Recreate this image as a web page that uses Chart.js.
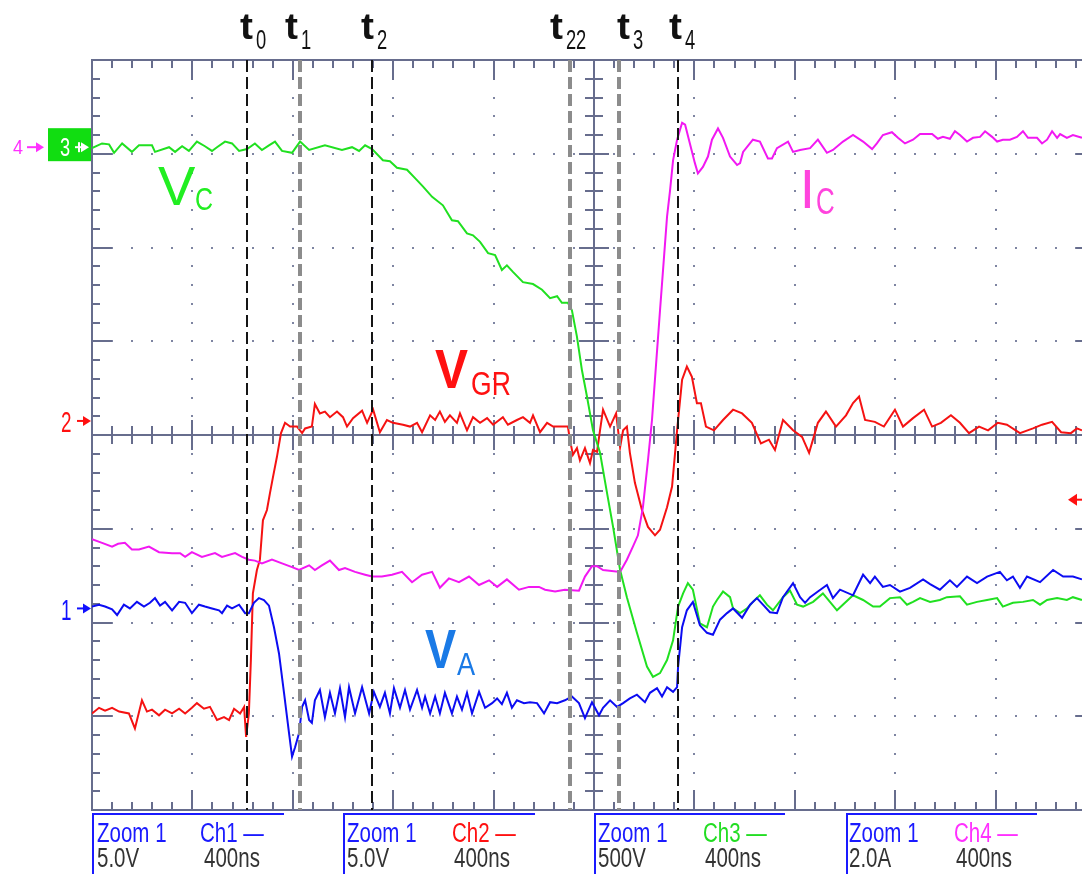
<!DOCTYPE html>
<html>
<head>
<meta charset="utf-8">
<script src="https://cdn.jsdelivr.net/npm/chart.js"></script>
<style>
  html, body { margin: 0; padding: 0; background: #fff; overflow: hidden; }
  #wrap { position: relative; width: 1100px; height: 874px; }
  .box { position: absolute; top: 813px; height: 61px; border-top: 2px solid #1a1aff; border-left: 2px solid #1a1aff; }
  .lbl { position: absolute; font-family: 'Liberation Sans', Arial, sans-serif; font-size: 27px; line-height: 1;
         transform: scaleX(0.76); transform-origin: 0 0; white-space: nowrap; }
</style>
</head>
<body>
<div id="wrap">
  <canvas id="scope" width="1100" height="874"></canvas>
  <div class="box" style="left:92px;width:190px"></div>
  <div class="box" style="left:343px;width:190px"></div>
  <div class="box" style="left:594px;width:189px"></div>
  <div class="box" style="left:846px;width:189px"></div>
  <div class="lbl" style="left:97px;top:820px;color:#1a1aff">Zoom 1</div>
  <div class="lbl" style="left:200px;top:820px;color:#1a1aff">Ch1 —</div>
  <div class="lbl" style="left:97px;top:845px;color:#333">5.0V</div>
  <div class="lbl" style="left:204px;top:845px;color:#333">400ns</div>
  <div class="lbl" style="left:347px;top:820px;color:#1a1aff">Zoom 1</div>
  <div class="lbl" style="left:452px;top:820px;color:#ff1010">Ch2 —</div>
  <div class="lbl" style="left:347px;top:845px;color:#333">5.0V</div>
  <div class="lbl" style="left:454px;top:845px;color:#333">400ns</div>
  <div class="lbl" style="left:598px;top:820px;color:#1a1aff">Zoom 1</div>
  <div class="lbl" style="left:703px;top:820px;color:#22dd22">Ch3 —</div>
  <div class="lbl" style="left:598px;top:845px;color:#333">500V</div>
  <div class="lbl" style="left:705px;top:845px;color:#333">400ns</div>
  <div class="lbl" style="left:849px;top:820px;color:#1a1aff">Zoom 1</div>
  <div class="lbl" style="left:954px;top:820px;color:#ff30ff">Ch4 —</div>
  <div class="lbl" style="left:849px;top:845px;color:#333">2.0A</div>
  <div class="lbl" style="left:956px;top:845px;color:#333">400ns</div>
</div>
<script>
// time in ns (400 ns/div, 10 div), values in screen divisions (+-4 div)

// Ch1: V_A
const ch1T = [0,28,52,80,100,127,151,179,207,231,
  251,271,291,319,347,371,398,426,450,478,
  506,518,538,558,586,610,625,645,665,685,
  705,725,745,765,785,797,809,825,837,849,
  865,876,888,908,928,948,968,988,1008,1024,
  1048,1076,1104,1123,1147,1167,1187,1203,1227,1247,
  1267,1295,1315,1327,1347,1367,1386,1406,1434,1454,
  1474,1494,1514,1542,1566,1594,1614,1633,1653,1673,
  1693,1721,1745,1773,1801,1825,1853,1884,1912,1940,
  1964,1992,2020,2036,2064,2092,2116,2143,2171,2203,
  2223,2251,2271,2291,2315,2331,2335,2351,2370,2394,
  2422,2450,2474,2502,2530,2554,2590,2622,2649,2673,
  2701,2729,2753,2793,2821,2841,2861,2892,2928,2952,
  2980,3032,3072,3100,3119,3151,3179,3219,3259,3311,
  3339,3378,3418,3446,3486,3526,3566,3617,3645,3669,
  3697,3725,3777,3829,3869,3908,3944];
const ch1V = [-1.83,-1.81,-1.83,-1.86,-1.92,-1.81,-1.85,-1.78,-1.83,-1.79,
  -1.74,-1.82,-1.78,-1.87,-1.78,-1.79,-1.90,-1.81,-1.83,-1.85,
  -1.87,-1.90,-1.82,-1.85,-1.81,-1.90,-1.90,-1.79,-1.74,-1.76,
  -1.82,-2.05,-2.33,-2.75,-3.18,-3.43,-3.33,-3.18,-2.90,-2.83,
  -3.04,-3.07,-2.83,-2.72,-3.01,-2.75,-2.97,-2.70,-3.01,-2.69,
  -2.97,-2.69,-2.97,-2.74,-2.90,-2.75,-2.97,-2.70,-2.91,-2.72,
  -2.93,-2.72,-2.91,-2.79,-2.97,-2.79,-2.97,-2.75,-2.97,-2.79,
  -2.93,-2.75,-2.97,-2.74,-2.91,-2.86,-2.81,-2.87,-2.75,-2.91,
  -2.83,-2.86,-2.85,-2.86,-2.97,-2.85,-2.86,-2.83,-2.79,-2.86,
  -3.02,-2.85,-2.99,-2.91,-2.83,-2.90,-2.86,-2.81,-2.77,-2.85,
  -2.75,-2.70,-2.79,-2.69,-2.74,-2.69,-2.47,-2.05,-1.87,-1.78,
  -2.03,-2.11,-2.13,-1.97,-1.90,-1.85,-1.95,-1.81,-1.74,-1.81,
  -1.89,-1.90,-1.73,-1.58,-1.73,-1.79,-1.73,-1.67,-1.60,-1.74,
  -1.65,-1.71,-1.49,-1.58,-1.51,-1.62,-1.60,-1.67,-1.63,-1.54,
  -1.59,-1.65,-1.55,-1.62,-1.51,-1.58,-1.51,-1.46,-1.55,-1.51,
  -1.63,-1.51,-1.57,-1.44,-1.51,-1.51,-1.54];

// Ch2: V_GR
const ch2T = [0,28,52,80,108,147,171,199,219,239,
  267,291,319,347,371,398,418,446,470,498,
  526,546,566,590,606,614,625,633,641,657,
  669,681,697,709,721,737,753,769,789,817,
  837,849,876,888,908,928,948,976,1000,1016,
  1040,1076,1096,1120,1147,1175,1199,1239,1267,1295,
  1315,1347,1367,1386,1406,1426,1454,1466,1494,1518,
  1546,1574,1598,1637,1657,1693,1717,1745,1757,1785,
  1813,1837,1896,1904,1916,1932,1944,1964,1984,1996,
  2012,2024,2036,2064,2088,2104,2116,2131,2143,2163,
  2191,2215,2243,2263,2291,2311,2323,2331,2351,2370,
  2390,2410,2426,2446,2478,2514,2554,2590,2629,2665,
  2697,2721,2753,2793,2829,2857,2892,2924,2964,3004,
  3032,3056,3080,3119,3155,3199,3231,3271,3315,3347,
  3382,3422,3458,3494,3534,3570,3609,3645,3697,3749,
  3785,3825,3861,3900,3924,3944];
const ch2V = [-2.97,-2.91,-2.94,-2.91,-2.95,-2.97,-3.13,-2.83,-2.95,-2.93,
  -2.99,-2.93,-2.97,-2.92,-2.97,-2.91,-2.86,-2.92,-2.90,-3.04,
  -3.01,-3.04,-2.92,-2.97,-2.90,-3.22,-2.97,-2.40,-1.69,-1.44,
  -1.33,-0.91,-0.80,-0.62,-0.45,-0.23,0.02,0.13,0.09,0.09,
  0.02,0.07,0.09,0.33,0.23,0.25,0.19,0.25,0.19,0.09,
  0.18,0.26,0.13,0.27,0.03,0.16,0.13,0.11,0.09,0.13,
  0.03,0.21,0.16,0.25,0.14,0.21,0.13,0.23,0.05,0.19,
  0.13,0.18,0.11,0.19,0.11,0.16,0.19,0.13,0.21,0.03,
  0.13,0.09,0.09,-0.05,-0.21,-0.14,-0.27,-0.14,-0.30,-0.16,
  -0.18,0.05,0.27,0.09,0.23,-0.13,0.05,0.09,-0.19,-0.51,
  -0.80,-0.98,-1.07,-1.01,-0.77,-0.55,-0.19,0.05,0.59,0.73,
  0.62,0.34,0.34,0.09,0.05,0.16,0.27,0.23,0.13,-0.09,
  -0.05,-0.16,0.16,0.05,-0.02,-0.19,0.13,0.25,0.09,0.21,
  0.34,0.41,0.16,0.14,0.09,0.27,0.09,0.18,0.27,0.09,
  0.13,0.21,0.13,0.02,0.09,0.05,0.13,0.11,0.02,0.07,
  0.11,0.14,0.03,0.02,0.07,0.05];

// Ch3: V_C
const ch3T = [0,40,68,88,120,159,187,239,251,307,
  331,359,386,418,450,478,498,530,558,586,
  618,649,677,705,729,757,797,829,865,928,
  996,1036,1064,1088,1116,1159,1187,1215,1255,1287,
  1319,1355,1398,1434,1458,1494,1518,1546,1578,1606,
  1633,1653,1677,1717,1757,1793,1825,1853,1872,1896,
  1912,1932,1952,1972,1996,2024,2052,2076,2104,2131,
  2171,2211,2235,2263,2291,2315,2335,2355,2374,2394,
  2422,2450,2474,2490,2514,2542,2554,2582,2610,2633,
  2661,2689,2713,2753,2781,2809,2833,2873,2912,2940,
  2968,3032,3072,3112,3139,3179,3219,3247,3271,3299,
  3339,3378,3406,3458,3486,3526,3566,3606,3629,3669,
  3709,3749,3777,3805,3845,3884,3908,3944];
const ch3V = [3.06,3.11,3.10,3.01,3.11,3.02,3.09,3.09,3.02,3.07,
  3.02,3.08,3.03,3.13,3.08,3.03,3.07,3.13,3.11,3.03,
  3.05,3.11,3.04,3.09,3.13,3.03,3.01,3.13,3.04,3.09,
  3.04,3.07,3.03,3.09,3.05,2.93,2.92,2.85,2.83,2.74,
  2.65,2.54,2.45,2.29,2.28,2.15,2.13,2.06,1.94,1.92,
  1.76,1.81,1.74,1.63,1.61,1.55,1.46,1.48,1.41,1.41,
  1.33,1.05,0.69,0.41,0.05,-0.19,-0.62,-0.98,-1.44,-1.73,
  -2.11,-2.47,-2.58,-2.54,-2.40,-2.19,-1.83,-1.69,-1.58,-1.65,
  -2.01,-2.05,-1.83,-1.76,-1.67,-1.73,-1.85,-1.90,-1.85,-1.78,
  -1.71,-1.81,-1.87,-1.73,-1.66,-1.81,-1.83,-1.78,-1.69,-1.78,
  -1.87,-1.71,-1.76,-1.83,-1.83,-1.74,-1.73,-1.81,-1.78,-1.74,
  -1.78,-1.76,-1.73,-1.72,-1.81,-1.78,-1.76,-1.74,-1.83,-1.79,
  -1.78,-1.76,-1.81,-1.76,-1.74,-1.76,-1.73,-1.76];

// Ch4: I_C
const ch4T = [0,40,80,104,131,159,187,227,267,319,
  351,371,398,438,490,518,570,598,625,649,
  677,717,757,797,825,865,888,916,948,984,
  1008,1048,1088,1116,1155,1195,1235,1275,1315,1355,
  1386,1422,1462,1502,1542,1582,1614,1653,1701,1741,
  1781,1805,1845,1884,1940,1964,1992,2012,2036,2104,
  2131,2155,2175,2195,2215,2231,2263,2291,2303,2315,
  2331,2351,2363,2382,2402,2414,2434,2454,2470,2494,
  2514,2542,2570,2582,2594,2633,2661,2693,2709,2729,
  2773,2793,2821,2861,2892,2928,2952,2992,3032,3072,
  3108,3127,3151,3187,3211,3239,3271,3299,3347,3370,
  3390,3418,3438,3458,3486,3510,3538,3558,3586,3606,
  3629,3657,3685,3709,3729,3765,3785,3805,3825,3845,
  3857,3884,3908,3944];
const ch4V = [-1.11,-1.15,-1.19,-1.16,-1.15,-1.22,-1.22,-1.19,-1.25,-1.26,
  -1.26,-1.30,-1.25,-1.30,-1.26,-1.30,-1.26,-1.30,-1.33,-1.34,
  -1.37,-1.33,-1.37,-1.41,-1.44,-1.39,-1.44,-1.39,-1.34,-1.44,
  -1.42,-1.46,-1.49,-1.51,-1.51,-1.49,-1.46,-1.57,-1.49,-1.46,
  -1.63,-1.53,-1.57,-1.51,-1.60,-1.55,-1.62,-1.54,-1.65,-1.62,
  -1.62,-1.65,-1.67,-1.65,-1.66,-1.51,-1.40,-1.40,-1.44,-1.46,
  -1.33,-1.19,-1.07,-0.77,-0.27,0.16,1.33,2.33,2.61,2.93,
  3.15,3.33,3.31,3.11,2.90,2.79,2.86,2.97,3.15,3.27,
  3.17,2.97,2.88,2.90,3.02,3.15,3.13,2.95,2.95,3.06,
  3.13,3.02,3.04,3.06,3.15,3.01,3.04,3.13,3.20,3.13,
  3.05,3.11,3.20,3.23,3.17,3.11,3.15,3.21,3.21,3.16,
  3.18,3.16,3.24,3.20,3.13,3.17,3.18,3.24,3.18,3.13,
  3.15,3.15,3.18,3.24,3.17,3.17,3.11,3.15,3.24,3.17,
  3.21,3.17,3.20,3.17];

// cursors
const cursorT = [618, 829, 1116, 1904, 2100, 2335];
const cursorSub = ['0', '1', '2', '22', '3', '4'];
const cursorGray = [false, true, false, true, true, false];

const GRID = '#676d8d';
const DOT = '#7e85a2';

function pts(t, v) {
  return t.map((x, i) => ({ x: x, y: v[i] }));
}

function drawText(ctx, s, x, y, font, color, sx) {
  ctx.save();
  ctx.translate(x, y);
  ctx.scale(sx || 1, 1);
  ctx.font = font;
  ctx.fillStyle = color;
  ctx.textBaseline = 'alphabetic';
  ctx.fillText(s, 0, 0);
  ctx.restore();
}

function arrowRight(ctx, x0, x1, y, color) {
  ctx.save();
  ctx.strokeStyle = color;
  ctx.fillStyle = color;
  ctx.lineWidth = 2;
  ctx.beginPath(); ctx.moveTo(x0, y); ctx.lineTo(x1 - 6, y); ctx.stroke();
  ctx.beginPath(); ctx.moveTo(x1, y); ctx.lineTo(x1 - 8, y - 5); ctx.lineTo(x1 - 8, y + 5); ctx.closePath(); ctx.fill();
  ctx.restore();
}

const graticule = {
  id: 'graticule',
  beforeDatasetsDraw(chart) {
    const { ctx, chartArea: a } = chart;
    const x = chart.scales.x, y = chart.scales.y;
    const dx = (x.getPixelForValue(400) - x.getPixelForValue(0));
    const dy = (y.getPixelForValue(-1) - y.getPixelForValue(0));
    const cx = x.getPixelForValue(2000), cy = y.getPixelForValue(0);
    ctx.save();
    ctx.fillStyle = DOT;
    for (let i = 1; i < 10; i++) {
      const px = Math.round(a.left + i * dx);
      for (let j = 1; j < 40; j++) ctx.fillRect(px - 1, Math.round(a.top + j * dy / 5) - 1, 2, 2);
    }
    for (let j = 1; j < 8; j++) {
      const py = Math.round(a.top + j * dy);
      for (let i = 1; i < 50; i++) ctx.fillRect(Math.round(a.left + i * dx / 5) - 1, py - 1, 2, 2);
    }
    ctx.strokeStyle = GRID;
    ctx.lineWidth = 2;
    ctx.strokeRect(a.left, a.top, a.right - a.left, a.bottom - a.top);
    ctx.beginPath();
    ctx.moveTo(a.left, cy); ctx.lineTo(a.right, cy);
    ctx.moveTo(cx, a.top); ctx.lineTo(cx, a.bottom);
    // ticks on top / bottom edges and centre horizontal axis
    for (let i = 1; i < 50; i++) {
      const px = Math.round(a.left + i * dx / 5);
      const major = i % 5 === 0;
      const L = major ? 20 : 8;
      ctx.moveTo(px, a.top); ctx.lineTo(px, a.top + L);
      ctx.moveTo(px, a.bottom); ctx.lineTo(px, a.bottom - L);
      const c = major ? 15 : 9;
      ctx.moveTo(px, cy - c); ctx.lineTo(px, cy + c);
    }
    // ticks on left / right edges and centre vertical axis
    for (let j = 1; j < 40; j++) {
      const py = Math.round(a.top + j * dy / 5);
      const major = j % 5 === 0;
      const L = major ? 20 : 8;
      ctx.moveTo(a.left, py); ctx.lineTo(a.left + L, py);
      ctx.moveTo(a.right, py); ctx.lineTo(a.right - L, py);
      const c = major ? 15 : 9;
      ctx.moveTo(cx - c, py); ctx.lineTo(cx + c, py);
    }
    ctx.stroke();
    ctx.restore();
  },
  afterDatasetsDraw(chart) {
    const { ctx, chartArea: a } = chart;
    const x = chart.scales.x, y = chart.scales.y;
    ctx.save();
    cursorT.forEach((t, i) => {
      const px = Math.round(x.getPixelForValue(t));
      ctx.beginPath();
      ctx.strokeStyle = cursorGray[i] ? '#8c8c8c' : '#151515';
      ctx.lineWidth = cursorGray[i] ? 4 : 2;
      ctx.setLineDash([12, 5]);
      ctx.moveTo(px, a.top); ctx.lineTo(px, a.bottom);
      ctx.stroke();
    });
    ctx.restore();

    // cursor labels
    const off = [-7, -15, -11, -20, -2, -9];
    cursorT.forEach((t, i) => {
      const px = x.getPixelForValue(t) + off[i];
      drawText(ctx, 't', px, 39, 'bold 37px "Liberation Sans", Arial', '#111', 1.05);
      drawText(ctx, cursorSub[i], px + 16, 49, '27px "Liberation Sans", Arial', '#111', 0.68);
    });

    // trace names
    const P = (t, v) => [x.getPixelForValue(t), y.getPixelForValue(v)];
    let p;
    p = P(263, 2.45); drawText(ctx, 'V', p[0], p[1], '56px "Liberation Sans", Arial', '#22ee22', 1);
    p = P(410, 2.40); drawText(ctx, 'C', p[0], p[1], '32px "Liberation Sans", Arial', '#22ee22', 0.78);
    p = P(2820, 2.42); drawText(ctx, 'I', p[0], p[1], '55px "Liberation Sans", Arial', '#ff44dd', 1);
    p = P(2884, 2.36); drawText(ctx, 'C', p[0], p[1], '36px "Liberation Sans", Arial', '#ff44dd', 0.72);
    p = P(1367, 0.50); drawText(ctx, 'V', p[0], p[1], 'bold 55px "Liberation Sans", Arial', '#ff1111', 0.9);
    p = P(1510, 0.43); drawText(ctx, 'GR', p[0], p[1], '34px "Liberation Sans", Arial', '#ff1111', 0.78);
    p = P(1327, -2.49); drawText(ctx, 'V', p[0], p[1], 'bold 55px "Liberation Sans", Arial', '#1a7ae6', 0.85);
    p = P(1454, -2.56); drawText(ctx, 'A', p[0], p[1], '32px "Liberation Sans", Arial', '#1a7ae6', 0.85);

    // channel ground markers
    const y4 = y.getPixelForValue(3.07);
    drawText(ctx, '4', 13, y4 + 7, '20px "Liberation Sans", Arial', '#ff30ff', 0.9);
    arrowRight(ctx, 27, 44, y4, '#ff30ff');
    ctx.fillStyle = '#11dd11';
    ctx.fillRect(48, y4 - 19, 43, 33);
    drawText(ctx, '3', 60, y4 + 9, '26px "Liberation Sans", Arial', '#fff', 0.7);
    arrowRight(ctx, 75, 89, y4, '#fff');
    ctx.fillStyle = '#fff';
    ctx.fillRect(78, y4 - 5, 2, 10);
    const y2 = y.getPixelForValue(0.15);
    drawText(ctx, '2', 61, y2 + 11, '29px "Liberation Sans", Arial', '#ff1010', 0.65);
    arrowRight(ctx, 77, 91, y2, '#ff1010');
    const y1 = y.getPixelForValue(-1.85);
    drawText(ctx, '1', 61, y1 + 12, '29px "Liberation Sans", Arial', '#1010ff', 0.65);
    arrowRight(ctx, 77, 91, y1, '#1010ff');
    // trigger level arrow (right side)
    const yt = y.getPixelForValue(-0.69);
    ctx.save();
    ctx.fillStyle = '#ff1010'; ctx.strokeStyle = '#ff1010'; ctx.lineWidth = 2;
    ctx.beginPath(); ctx.moveTo(1068, yt); ctx.lineTo(1077, yt - 6); ctx.lineTo(1077, yt + 6); ctx.closePath(); ctx.fill();
    ctx.beginPath(); ctx.moveTo(1075, yt); ctx.lineTo(1086, yt); ctx.stroke();
    ctx.restore();
  }
};

const chart = new Chart(document.getElementById('scope'), {
  type: 'line',
  data: {
    datasets: [
      { label: 'Ch1', data: pts(ch1T, ch1V), borderColor: '#0c0cf2' },
      { label: 'Ch4', data: pts(ch4T, ch4V), borderColor: '#f218f2' },
      { label: 'Ch3', data: pts(ch3T, ch3V), borderColor: '#20e020' },
      { label: 'Ch2', data: pts(ch2T, ch2V), borderColor: '#f51212' }
    ]
  },
  options: {
    responsive: false,
    animation: false,
    devicePixelRatio: 1,
    layout: { padding: { left: 92, top: 60, right: 4, bottom: 64 } },
    plugins: { legend: { display: false }, tooltip: { enabled: false } },
    scales: {
      x: { type: 'linear', min: 0, max: 4000, display: false },
      y: { min: -4, max: 4, display: false }
    },
    elements: {
      point: { radius: 0 },
      line: { borderWidth: 2, tension: 0, fill: false }
    }
  },
  plugins: [graticule]
});
</script>
</body>
</html>
